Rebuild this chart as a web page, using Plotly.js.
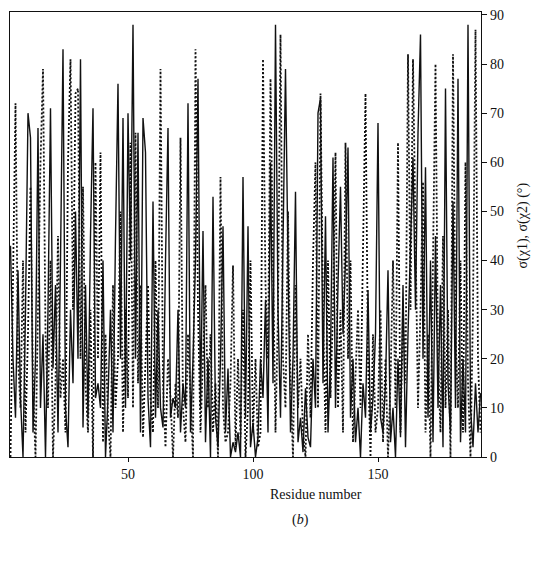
<!DOCTYPE html>
<html>
<head>
<meta charset="utf-8">
<script src="https://cdn.plot.ly/plotly-3.0.1.min.js"></script>
<style>html,body{margin:0;padding:0;background:#fff;}#chart{width:540px;height:561px;}</style>
</head>
<body>
<div id="chart"></div>
<script>
const residueStart = 3;
const sigmaChi1 = [
  43,20,8,38,12,0,30,70,65,5,
  20,67,10,25,0,30,71,18,35,5,
  40,83,10,2,30,15,50,20,81,6,
  35,8,45,71,12,15,10,40,0,12,
  30,5,45,76,20,69,10,70,40,88,
  20,66,5,69,62,12,2,52,8,30,
  10,6,40,67,8,12,10,30,5,15,
  10,72,5,20,40,77,10,46,3,20,
  0,53,8,2,20,47,5,18,0,3,
  1,5,0,57,8,47,2,7,0,4,
  20,12,32,5,60,15,88,30,8,45,
  79,40,5,20,54,3,8,1,14,4,
  2,20,10,70,73,15,49,5,20,61,
  10,35,55,25,40,63,8,20,3,10,
  0,15,8,34,5,12,25,68,8,5,
  15,38,3,10,0,20,4,35,2,25,
  45,61,30,66,86,20,59,8,40,3,
  45,10,35,2,75,15,5,52,10,77,
  3,20,5,88,10,2,15,5,13
];
const sigmaChi2 = [
  0,35,72,20,10,40,5,25,55,15,
  0,30,60,79,25,10,40,0,15,45,
  12,20,5,60,81,30,74,75,20,55,
  15,5,30,0,60,20,62,3,25,8,
  0,35,10,20,50,5,30,12,64,10,
  66,15,35,4,20,35,12,5,40,10,
  79,15,2,20,12,0,15,8,65,10,
  3,25,12,0,83,30,5,20,35,10,
  25,5,15,0,57,10,3,5,15,39,
  2,20,4,30,0,10,40,5,20,2,
  5,81,35,20,77,40,5,30,86,20,
  10,50,15,0,35,10,20,5,0,25,
  8,40,60,10,74,30,5,40,12,30,
  62,10,30,5,64,20,40,3,15,30,
  10,45,74,20,0,25,5,10,30,3,
  20,0,15,40,10,64,5,30,15,82,
  30,81,50,10,30,56,5,25,0,40,
  80,20,5,45,10,30,0,82,25,10,
  40,5,60,15,0,30,87,20,5
];
const xTickVals = [50, 100, 150];
const yTickVals = [0, 10, 20, 30, 40, 50, 60, 70, 80, 90];
const xTitle = 'Residue number';
const yTitle = 'σ(χ1), σ(χ2) (°)';
const panelLabel = '(<i>b</i>)';

const residues = sigmaChi1.map((_, i) => residueStart + i);
const residues2 = sigmaChi2.map((_, i) => residueStart + i);

const font = {family: 'Liberation Serif, Times New Roman, serif', size: 14, color: '#111'};

const traces = [
  {x: residues, y: sigmaChi1, type: 'scatter', mode: 'lines', name: 'σ(χ1)',
   line: {color: '#111', width: 1.4}},
  {x: residues2, y: sigmaChi2, type: 'scatter', mode: 'lines', name: 'σ(χ2)',
   line: {color: '#111', width: 1.8, dash: '2px,2px'}}
];

const layout = {
  width: 540, height: 561,
  margin: {l: 10, r: 59, t: 12, b: 104},
  paper_bgcolor: '#fff', plot_bgcolor: '#fff',
  showlegend: false,
  font: font,
  xaxis: {
    range: [2.8, 191.2], tickvals: xTickVals, ticks: 'outside', ticklen: 4,
    tickcolor: '#111', showline: true, linecolor: '#111', linewidth: 1.2,
    mirror: true, showgrid: false, zeroline: false, tickfont: font
  },
  yaxis: {
    range: [0, 90.6], side: 'right', tickvals: yTickVals, ticks: 'outside', ticklen: 5,
    tickcolor: '#111', showline: true, linecolor: '#111', linewidth: 1.2,
    mirror: true, showgrid: false, zeroline: false, tickfont: font
  },
  annotations: [
    {text: xTitle, xref: 'paper', yref: 'paper', x: 0.65, y: -0.062, xanchor: 'center', yanchor: 'top',
     showarrow: false, font: font},
    {text: yTitle, xref: 'paper', yref: 'paper', x: 1.089, y: 0.52, xanchor: 'center', yanchor: 'middle',
     textangle: -90, showarrow: false, font: font},
    {text: panelLabel, xref: 'paper', yref: 'paper', x: 0.616, y: -0.12, xanchor: 'center', yanchor: 'top',
     showarrow: false, font: font}
  ]
};

Plotly.newPlot('chart', traces, layout, {staticPlot: true, displayModeBar: false});
</script>
</body>
</html>
